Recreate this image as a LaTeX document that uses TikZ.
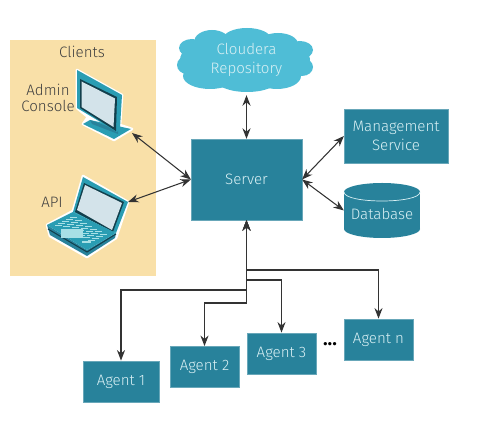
\documentclass[tikz,border=0pt]{standalone}
\usepackage{fontspec}
\setmainfont{Fira Sans Light}
\usetikzlibrary{arrows.meta}

\definecolor{teal}{HTML}{28829B}
\definecolor{tealbright}{HTML}{2A9DB3}
\definecolor{tealdark}{HTML}{123F4C}
\definecolor{skyblue}{HTML}{4FBDD6}
\definecolor{sand}{HTML}{F9E0A8}
\definecolor{pale}{HTML}{D9F0F4}
\definecolor{screen}{HTML}{D3E3EA}
\definecolor{keycap}{HTML}{A8E0E6}

\tikzset{
  box/.style={draw=teal!70, line width=0.3pt, fill=teal, text=pale, align=center, inner sep=0pt, font=\fontsize{8.6}{10.5}\selectfont},
  agent/.style={box, minimum width=39pt, minimum height=23.5pt},
  label/.style={text=black!75, align=center, inner sep=0pt, font=\fontsize{8.6}{9.4}\selectfont},
  plain/.style={text=pale, align=center, inner sep=0pt, font=\fontsize{8.6}{10.5}\selectfont},
  halo/.style={fill=white, draw=white, line width=1.5pt, line join=round},
  link/.style={{Stealth[length=6pt,width=4.6pt]}-{Stealth[length=6pt,width=4.6pt]}, black!80, line width=0.6pt}
}

\begin{document}
\begin{tikzpicture}[x=0.02cm,y=-0.02cm]
\useasboundingbox (0,0) rectangle (500,431);

\fill[sand] (10,40) rectangle (156,276);
\node[label] (clients) at (82,52) {Clients};
\node[label] (admin) at (48,98) {Admin\\Console};
\node[label] (apilabel) at (52,202) {API};

% monitor
\fill[halo] (77,70) -- (122,95) -- (120,125) -- (132,129) -- (114,140) -- (83,124) -- (88,117) -- (77,108) -- cycle;
\fill[tealbright] (83,124) -- (90,120) -- (131,129) -- (114,139) -- cycle;
\fill[teal] (90,120) -- (118,130) -- (118,134) -- (92,124) -- cycle;
\fill[tealbright] (77,70) -- (122,95) -- (120,128) -- (117,132) -- (77,108) -- cycle;
\fill[tealdark] (80,79) -- (117,97) -- (116,131) -- (80,108) -- cycle;
\fill[screen] (81.5,81.5) -- (115,98.5) -- (113.5,127) -- (81.5,107) -- cycle;

% laptop
\fill[halo] (83,176) -- (128,202) -- (116,238) -- (87,257) -- (50,236) -- (47,225) -- (73,211) -- cycle;
\fill[tealbright] (83,177) -- (128,202) -- (116,233) -- (73,212) -- cycle;
\fill[tealdark] (84,183) -- (124,202) -- (113,232) -- (75,212) -- cycle;
\fill[screen] (85,185) -- (122,203) -- (112,230) -- (77,210) -- cycle;
\fill[teal] (47,225) -- (50,235) -- (87,256) -- (115,238) -- (116,233) -- (87,250) -- cycle;
\draw[tealdark, line width=0.6pt] (48,229) -- (87,252) -- (116,234);
\fill[tealbright] (47,225) -- (73,212) -- (116,233) -- (87,250) -- cycle;
\begin{scope}[shift={(53,225)}, x={(0.70cm,-0.40cm)}, y={(0.40cm,0.20cm)}]
  \foreach \i in {0,...,6}
    \foreach \j in {1,...,4}
      \fill[keycap] (\i/7+.02,\j/5+.03) rectangle +(.10,.14);
  \fill[keycap] (.22,.04) rectangle (.76,.17);
  \fill[keycap] (.02,.04) rectangle (.16,.17);
  \fill[keycap] (.82,.04) rectangle (.98,.17);
\end{scope}

\coordinate (console) at (132,133);
\coordinate (laptop) at (128,202);

% cloud lobes
\foreach \cx/\cy/\rx/\ry in {192/48/13/9, 187/65/10/9, 212/42/18/12, 247/39/24/11, 278/44/20/11,
    300/50/13/9, 302/67/11/9, 277/76/24/13, 247/79/32/13, 210/76/27/13, 246/60/56/24, 200/60/20/15, 292/60/18/13}
  \fill[skyblue] (\cx,\cy) ellipse [x radius=\rx, y radius=\ry];
\node[plain, minimum height=39.7pt] (repo) at (246.5,60) {Cloudera\\Repository};

\node[box, minimum width=63pt, minimum height=46pt] (server) at (246.5,179.5) {Server};
\node[box, minimum width=59pt, minimum height=30.6pt] (mgmt) at (396,136) {Management\\Service};

% database
\fill[teal] (344,192) rectangle (420,229);
\fill[teal] (382,192) ellipse [x radius=38, y radius=9];
\fill[teal] (382,229) ellipse [x radius=38, y radius=9];
\draw[pale, line width=0.4pt] (344,192) .. controls (344,204) and (420,204) .. (420,192);
\node[minimum width=43pt, minimum height=31pt, inner sep=0pt] (db) at (382,210.5) {};
\node[plain] (dblabel) at (382,214) {Database};

\node[agent, minimum width=43pt] (agent1) at (121,381.5) {Agent 1};
\node[agent] (agent2) at (204.5,367) {Agent 2};
\node[agent] (agent3) at (281.5,353.5) {Agent 3};
\node[agent] (agentn) at (378.5,339.5) {Agent n};
\node[inner sep=0pt, font=\bfseries\fontsize{11}{12}\selectfont] (dots) at (330,344) {...};

\coordinate (bus1) at (246.5,290);
\coordinate (bus2) at (246.5,303);
\coordinate (bus3) at (246.5,280);
\coordinate (busn) at (246.5,270);

\draw[link] (console) -- (server.west);
\draw[link] (laptop) -- (server.west);
\draw[link] (repo.south) -- (server.north);
\draw[link] (server.east) -- (mgmt.west);
\draw[link] (server.east) -- (db.west);
\draw[link] (server.south) -- (bus1) -| (agent1.north);
\draw[link] (server.south) -- (bus2) -| (agent2.north);
\draw[link] (server.south) -- (bus3) -| (agent3.north);
\draw[link] (server.south) -- (busn) -| (agentn.north);
\end{tikzpicture}
\end{document}
